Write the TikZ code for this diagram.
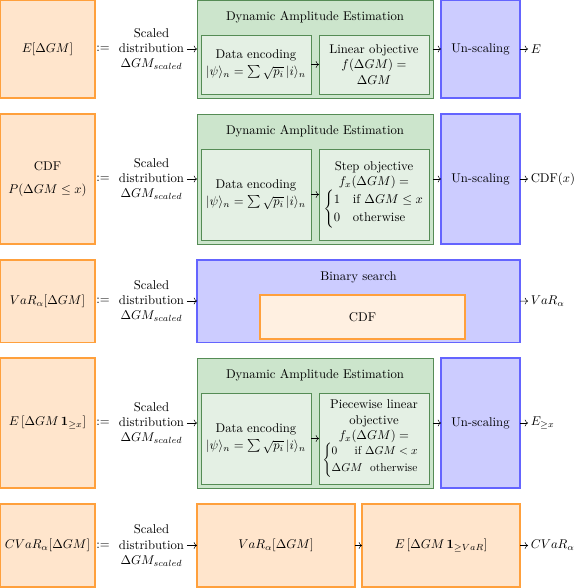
\documentclass[tikz,border=0pt]{standalone}
\usepackage{amsmath,amssymb,graphicx}
\usetikzlibrary{arrows.meta}
\newdimen\pu \pu=0.787pt
\definecolor{orfill}{RGB}{255,229,204}
\definecolor{orline}{RGB}{255,160,60}
\definecolor{orinner}{RGB}{255,240,225}
\definecolor{grfill}{RGB}{204,229,204}
\definecolor{grline}{RGB}{85,140,85}
\definecolor{grinner}{RGB}{228,240,228}
\definecolor{blfill}{RGB}{204,204,255}
\definecolor{blline}{RGB}{100,100,255}
\newcommand\bnode[7]{\node[#1,minimum width={(#5-#3)*\pu},minimum height={(#6-#4)*\pu}] (#2) at ({(#3+#5)/2},{(#4+#6)/2}) {#7};}
\newcommand\encoding{Data encoding\\[1.5pt]$|\psi\rangle_n=\sum\sqrt{p_i}\,|i\rangle_n$}
\begin{document}
\begin{tikzpicture}[x=0.787pt,y=-0.787pt,
  basebox/.style={draw,line width=0.8pt,inner sep=0pt,outer sep=0pt,align=center},
  obox/.style={basebox,fill=orfill,draw=orline},
  oinner/.style={basebox,fill=orinner,draw=orline},
  gbox/.style={basebox,fill=grfill,draw=grline,line width=0.6pt},
  ibox/.style={basebox,fill=grinner,draw=grline,line width=0.6pt},
  bbox/.style={basebox,fill=blfill,draw=blline},
  txt/.style={align=center,inner sep=2pt},
  arr/.style={->,line width=0.4pt}]
\useasboundingbox (0,0) rectangle (581,588);

% ---------- Row 1 ----------
\bnode{obox}{l1}{0}{0}{95}{98}{$E[\Delta GM]$}
\node[txt] (d1) at (103,49) {$:=$};
\node[txt] (s1) at (151.5,49) {Scaled\\distribution\\$\Delta GM_{scaled}$};
\bnode{gbox}{g1}{197}{0}{433}{98}{}
\node[txt] (t1) at (315,17) {Dynamic Amplitude Estimation};
\bnode{ibox}{e1}{201}{35}{311}{94}{\encoding}
\bnode{ibox}{o1}{319}{35}{429}{94}{Linear objective\\$f(\Delta GM)=$\\$\Delta GM$}
\bnode{bbox}{u1}{441}{0}{520}{98}{Un-scaling}
\node[txt,anchor=west] (r1) at (528,49) {$E$};
\draw[arr] (s1.east) -- (s1.east -| g1.west);
\draw[arr] (e1) -- (o1);
\draw[arr] (g1) -- (u1);
\draw[arr] (u1) -- (r1);

% ---------- Row 2 ----------
\bnode{obox}{l2}{0}{114}{95}{244}{CDF\\[6pt]$P(\Delta GM\leq x)$}
\node[txt] (d2) at (103,179) {$:=$};
\node[txt] (s2) at (151.5,179) {Scaled\\distribution\\$\Delta GM_{scaled}$};
\bnode{gbox}{g2}{197}{114}{433}{244}{}
\node[txt] (t2) at (315,131) {Dynamic Amplitude Estimation};
\bnode{ibox}{e2}{201}{149}{311}{240}{\encoding}
\bnode{ibox}{o2}{319}{149}{429}{240}{Step objective\\$f_x(\Delta GM)=$\\$\begin{cases}1 & \text{if } \Delta GM\leq x\\ 0 & \text{otherwise}\end{cases}$}
\bnode{bbox}{u2}{441}{114}{520}{244}{Un-scaling}
\node[txt,anchor=west] (r2) at (528,179) {CDF$(x)$};
\draw[arr] (s2.east) -- (s2.east -| g2.west);
\draw[arr] (e2) -- (o2);
\draw[arr] (g2) -- (u2);
\draw[arr] (u2) -- (r2);

% ---------- Row 3 ----------
\bnode{obox}{l3}{0}{260}{95}{342.7}{$VaR_\alpha[\Delta GM]$}
\node[txt] (d3) at (103,301) {$:=$};
\node[txt] (s3) at (151.5,301) {Scaled\\distribution\\$\Delta GM_{scaled}$};
\bnode{bbox}{b3}{197}{260}{520}{342.7}{}
\node[txt] (t3) at (358.5,277) {Binary search};
\bnode{oinner}{c3}{260}{295}{465}{339}{CDF}
\node[txt,anchor=west] (r3) at (528,301) {$VaR_\alpha$};
\draw[arr] (s3.east) -- (s3.east -| b3.west);
\draw[arr] (b3) -- (r3);

% ---------- Row 4 ----------
\bnode{obox}{l4}{0}{358}{95}{488}{$E\left[\Delta GM\,\mathbf{1}_{\geq x}\right]$}
\node[txt] (d4) at (103,423) {$:=$};
\node[txt] (s4) at (151.5,423) {Scaled\\distribution\\$\Delta GM_{scaled}$};
\bnode{gbox}{g4}{197}{358}{433}{488}{}
\node[txt] (t4) at (315,375) {Dynamic Amplitude Estimation};
\bnode{ibox}{e4}{201}{393}{311}{484}{\encoding}
\bnode{ibox}{o4}{319}{393}{429}{484}{Piecewise linear\\objective\\$f_x(\Delta GM)=$\\[-1pt]\makebox[0pt]{\hspace{4pt}\scalebox{0.9}{$\begin{cases}0\quad\ \,\text{if } \Delta GM<x\\ \Delta GM\ \ \text{otherwise}\end{cases}$}}}
\bnode{bbox}{u4}{441}{358}{520}{488}{Un-scaling}
\node[txt,anchor=west] (r4) at (528,423) {$E_{\geq x}$};
\draw[arr] (s4.east) -- (s4.east -| g4.west);
\draw[arr] (e4) -- (o4);
\draw[arr] (g4) -- (u4);
\draw[arr] (u4) -- (r4);

% ---------- Row 5 ----------
\bnode{obox}{l5}{0}{504}{95}{587}{$CVaR_\alpha[\Delta GM]$}
\node[txt] (d5) at (103,545.5) {$:=$};
\node[txt] (s5) at (151.5,545.5) {Scaled\\distribution\\$\Delta GM_{scaled}$};
\bnode{obox}{v5}{197}{504}{355}{587}{$VaR_\alpha[\Delta GM]$}
\bnode{obox}{e5}{362}{504}{520}{587}{$E\left[\Delta GM\,\mathbf{1}_{\geq VaR}\right]$}
\node[txt,anchor=west] (r5) at (528,545.5) {$CVaR_\alpha$};
\draw[arr] (s5.east) -- (s5.east -| v5.west);
\draw[arr] (v5) -- (e5);
\draw[arr] (e5) -- (r5);
\end{tikzpicture}
\end{document}
